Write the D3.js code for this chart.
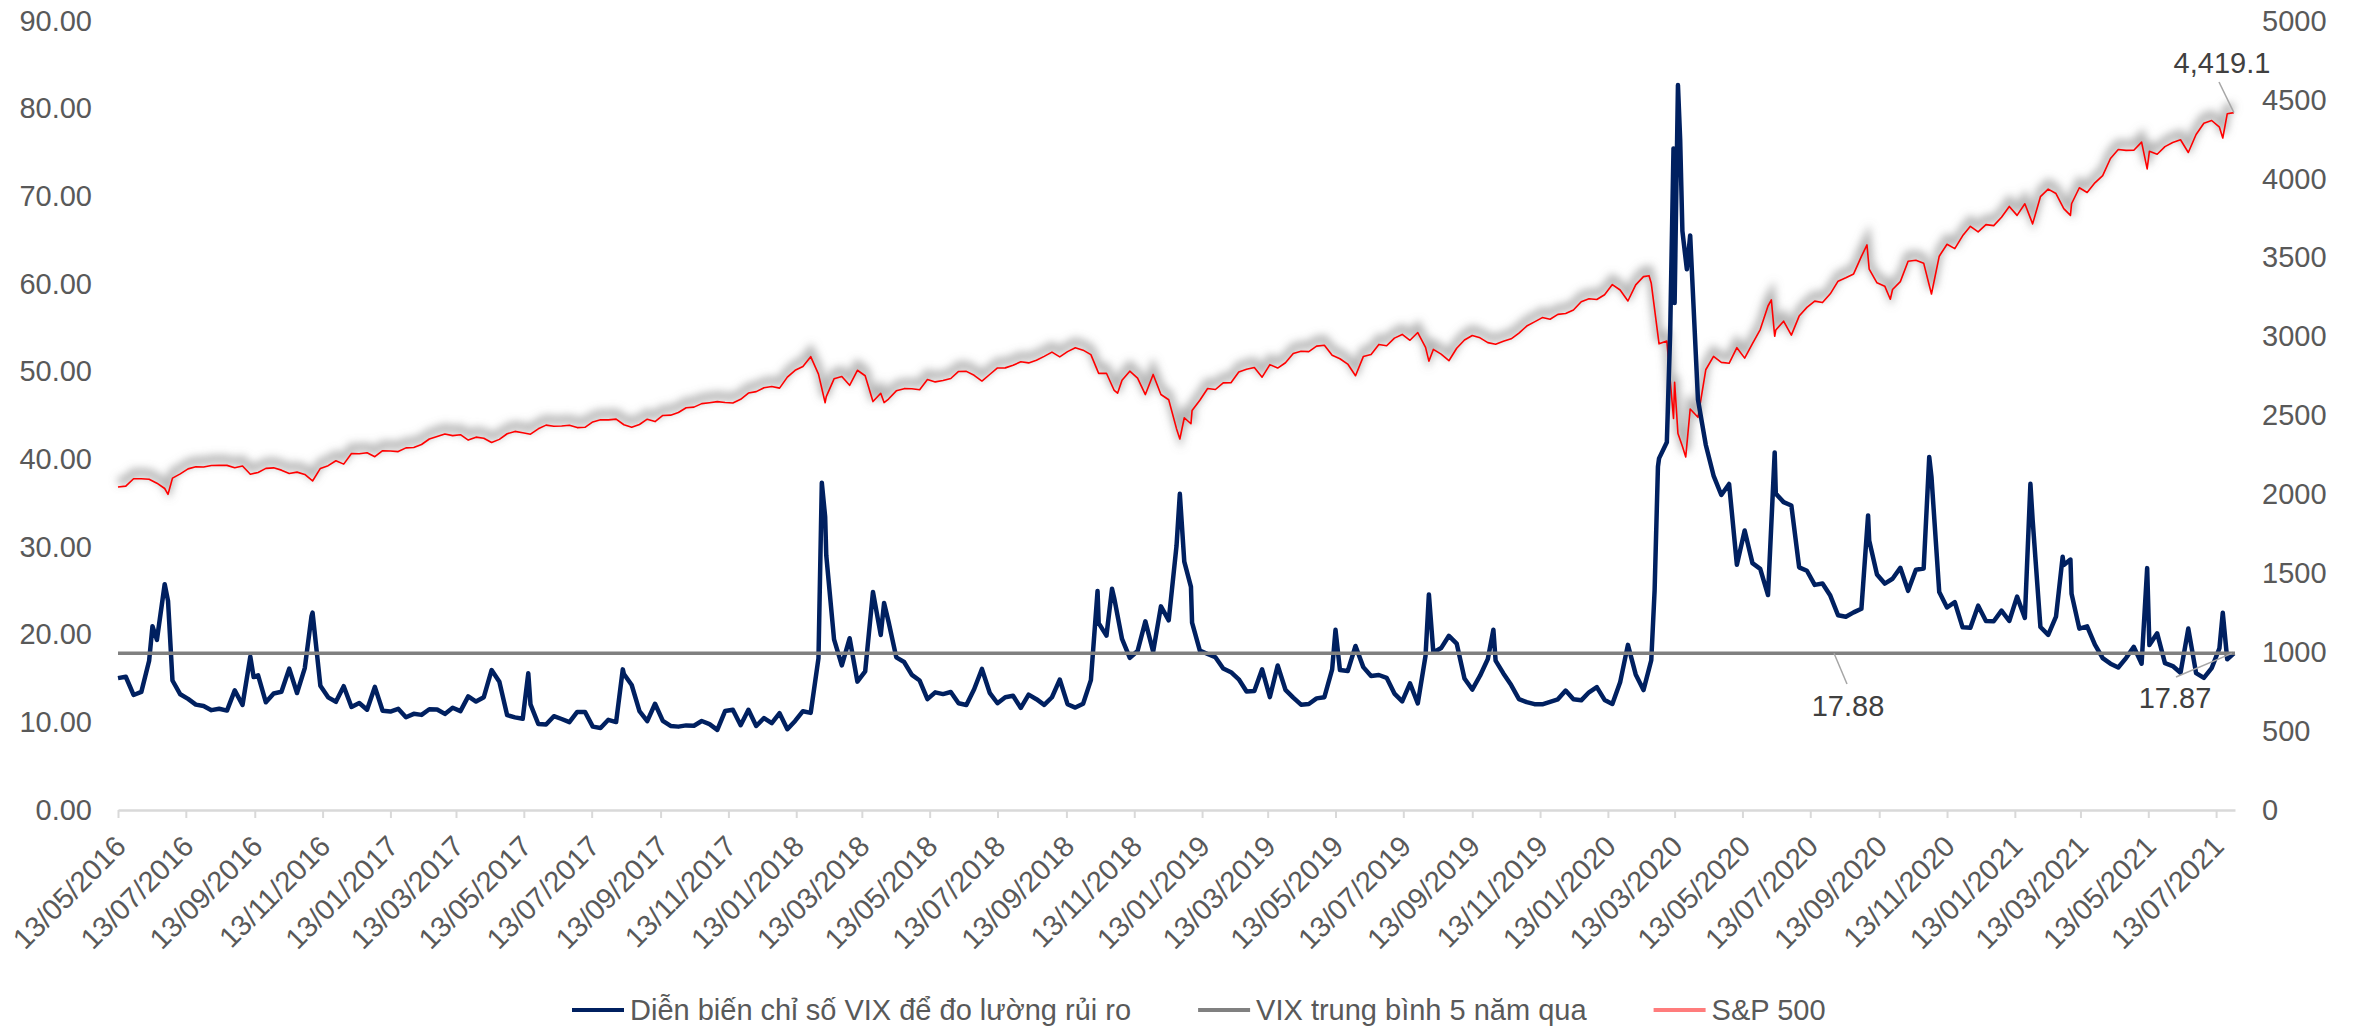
<!DOCTYPE html>
<html lang="vi">
  <head>
    <meta charset="UTF-8" />
    <title>VIX va S&amp;P 500</title>
    <script src="https://d3js.org/d3.v7.min.js"></script>
    <style>
      body {
        margin: 0;
        background: #fff;
        font-family: "Liberation Sans", Arial, sans-serif;
      }
      .tick text {
        fill: #595959;
        font-size: 29px;
      }
    </style>
  </head>
  <body>
    <script>
      // weekly closes (Fridays) from 13/05/2016 to 23/07/2021
      const vix2016 = [15.04,15.20,13.12,13.47,17.03,19.41,25.76,14.77,13.20,12.67,12.02,11.87,11.39,11.55,11.34,13.65,11.98,17.50,15.37,12.29,13.29,13.48,16.12,13.34,16.19,22.51,14.17,12.85,12.34,14.12,11.75,12.20,11.44,14.04];
      const vix2017 = [11.32,11.23,11.54,10.58,10.97,10.85,11.49,11.47,10.96,11.66,11.28,12.96,12.37,12.87,15.96,14.63,10.82,10.57,10.40,12.04,9.81,9.75,10.70,10.38,10.02,11.18,11.19,9.51,9.36,10.29,10.03,15.51,14.26,11.28,10.13,12.12,10.17,9.59,9.51,9.65,9.61,10.15,9.80,9.14,11.29,11.43,9.67,11.43,9.58,10.49,9.90,11.04];
      const vix2018 = [9.22,10.16,11.27,11.08,17.31,29.06,19.46,16.49,19.59,14.64,15.80,24.87,19.97,21.49,17.41,16.88,15.41,14.77,12.65,13.42,13.22,13.46,12.18,11.98,13.77,16.09,13.37,12.18,12.86,13.03,11.64,13.16,12.64,11.99,12.86,14.88,12.07,11.68,12.12,14.82,21.31,19.89,24.16,19.51,17.36,18.14,21.52,18.07,23.23,21.63,30.11,28.34];
      const vix2019 = [21.38,18.19,17.80,17.42,16.14,15.72,14.91,13.51,13.57,16.05,12.88,16.48,13.71,12.82,12.01,12.09,12.73,12.87,16.04,15.96,15.85,18.71,16.30,15.28,15.40,15.08,13.28,12.39,14.45,12.16,17.61,17.97,18.47,19.87,18.98,15.00,13.74,15.32,17.22,17.04,15.58,14.25,12.65,12.30,12.07,12.05,12.34,12.62,13.62,12.63,12.51,13.43];
      const vix2020 = [14.02,12.56,12.10,14.56,18.84,15.47,13.68,17.08,40.11,41.94,57.83,66.04,65.54,46.80,41.67,38.15,35.93,37.19,27.98,31.89,28.16,27.51,24.52,36.09,35.12,34.73,27.68,27.29,25.68,25.84,24.46,22.21,22.05,22.54,22.96,30.75,26.87,25.83,26.38,27.63,25.00,27.41,27.55,38.02,24.86,23.10,23.70,20.84,20.79,23.31,21.57,21.53,22.75];
      const vix2021 = [21.56,24.34,21.91,33.09,20.87,19.97,22.05,27.95,24.66,20.69,20.95,18.86,17.33,16.69,16.25,17.33,18.61,16.69,18.81,20.15,16.76,16.42,15.65,20.70,15.62,15.07,16.18,18.45,17.20];

      const spx2016 = [2046.61,2052.32,2099.06,2099.13,2096.07,2071.22,2037.41,2102.95,2129.90,2161.74,2175.03,2173.60,2182.87,2184.05,2183.87,2169.04,2179.98,2127.81,2139.16,2164.69,2168.27,2153.74,2132.98,2141.16,2126.41,2085.18,2164.45,2181.90,2213.35,2191.95,2259.53,2258.07,2263.79,2238.83];
      const spx2017 = [2276.98,2274.64,2271.31,2294.69,2297.42,2316.10,2351.16,2367.34,2383.12,2372.60,2378.25,2343.98,2362.72,2355.54,2328.95,2348.69,2384.20,2399.29,2390.90,2381.73,2415.82,2439.07,2431.77,2433.15,2438.30,2423.41,2425.18,2459.27,2472.54,2472.10,2476.83,2441.32,2425.55,2443.05,2476.55,2461.43,2500.23,2502.22,2519.36,2549.33,2553.17,2575.21,2581.07,2587.84,2582.30,2578.85,2602.42,2642.22,2651.50,2675.81,2683.34,2673.61];
      const spx2018 = [2743.15,2786.24,2810.30,2872.87,2762.13,2619.55,2732.22,2747.30,2691.25,2786.57,2752.01,2588.26,2640.87,2604.47,2656.30,2670.14,2669.91,2663.42,2727.72,2712.97,2721.33,2734.62,2779.03,2779.66,2754.88,2718.37,2759.82,2801.31,2801.83,2818.82,2840.35,2833.28,2850.13,2874.69,2901.52,2871.68,2904.98,2929.67,2913.98,2885.57,2767.13,2767.78,2658.69,2723.06,2781.01,2736.27,2632.56,2760.17,2633.08,2599.95,2416.62,2485.74];
      const spx2019 = [2531.94,2596.26,2670.71,2664.76,2706.53,2707.88,2775.60,2792.67,2803.69,2743.07,2822.48,2800.71,2834.40,2892.74,2907.41,2905.03,2939.88,2945.64,2881.40,2859.53,2826.06,2752.06,2873.34,2886.98,2950.46,2941.76,2990.41,3013.77,2976.61,3025.86,2932.05,2918.65,2888.68,2847.11,2926.46,2978.71,3007.39,2992.07,2961.79,2952.01,2970.27,2986.20,3022.55,3066.91,3093.08,3120.46,3110.29,3140.98,3145.91,3168.80,3221.22,3240.02];
      const spx2020 = [3234.85,3265.35,3329.62,3295.47,3225.52,3327.71,3380.16,3337.75,2954.22,2972.37,2711.02,2304.92,2541.47,2488.65,2789.82,2874.56,2836.74,2830.71,2929.80,2863.70,2955.45,3044.31,3193.93,3041.31,3097.74,3009.05,3130.01,3185.04,3224.73,3215.63,3271.12,3351.28,3372.85,3397.16,3508.01,3426.96,3340.97,3319.47,3298.46,3348.44,3477.14,3483.81,3465.39,3269.96,3509.44,3585.15,3557.54,3638.35,3699.12,3663.46,3709.41,3703.06,3756.07];
      const spx2021 = [3824.68,3768.25,3841.47,3714.24,3886.83,3934.83,3906.71,3811.15,3841.94,3943.34,3913.10,3974.54,4019.87,4128.80,4185.47,4180.17,4181.17,4232.60,4173.85,4155.86,4204.11,4229.89,4247.44,4166.45,4280.70,4352.34,4369.55,4327.16,4411.79];

      // intra-week extremes and the last day (29/07/2021)
      const vixExtra = [
        ["2016-06-13", 20.97], ["2016-06-27", 23.85], ["2016-09-12", 15.16], ["2016-11-03", 22.08],
        ["2017-05-17", 15.59], ["2017-08-10", 16.04],
        ["2018-02-05", 37.32], ["2018-02-08", 33.46], ["2018-04-02", 23.62], ["2018-10-11", 24.98],
        ["2018-10-24", 25.23], ["2018-12-24", 36.07],
        ["2019-01-03", 25.45], ["2019-05-13", 20.55], ["2019-08-05", 24.59], ["2019-10-02", 20.56],
        ["2020-02-24", 25.03], ["2020-02-27", 39.16], ["2020-03-09", 54.46], ["2020-03-12", 75.47],
        ["2020-03-16", 82.69], ["2020-03-18", 76.45], ["2020-03-24", 61.67], ["2020-06-11", 40.79],
        ["2020-09-03", 33.6], ["2020-10-28", 40.28],
        ["2021-01-27", 37.21], ["2021-02-25", 28.89], ["2021-03-04", 28.57], ["2021-05-12", 27.59],
        ["2021-07-19", 22.5], ["2021-07-29", 17.87]
      ];
      const spxExtra = [
        ["2016-06-27", 2000.54],
        ["2018-02-08", 2581.0], ["2018-04-02", 2581.88], ["2018-10-29", 2641.25], ["2018-12-24", 2351.1],
        ["2019-01-03", 2447.89], ["2019-08-05", 2844.74],
        ["2020-02-19", 3386.15], ["2020-03-12", 2480.64], ["2020-03-16", 2386.13], ["2020-03-23", 2237.4],
        ["2020-06-08", 3232.39], ["2020-06-11", 3002.1], ["2020-09-02", 3580.84], ["2020-09-23", 3236.92],
        ["2021-01-27", 3750.77], ["2021-03-04", 3768.47], ["2021-05-12", 4063.04], ["2021-07-19", 4258.49],
        ["2021-07-29", 4419.15]
      ];

      const vixAverage = 17.88;

      const tickLabels = [
        "13/05/2016","13/07/2016","13/09/2016","13/11/2016",
        "13/01/2017","13/03/2017","13/05/2017","13/07/2017","13/09/2017","13/11/2017",
        "13/01/2018","13/03/2018","13/05/2018","13/07/2018","13/09/2018","13/11/2018",
        "13/01/2019","13/03/2019","13/05/2019","13/07/2019","13/09/2019","13/11/2019",
        "13/01/2020","13/03/2020","13/05/2020","13/07/2020","13/09/2020","13/11/2020",
        "13/01/2021","13/03/2021","13/05/2021","13/07/2021"
      ];
      const leftTicks = [0, 10, 20, 30, 40, 50, 60, 70, 80, 90];
      const rightTicks = [0, 500, 1000, 1500, 2000, 2500, 3000, 3500, 4000, 4500, 5000];
      const legendItems = [
        { name: "Diễn biến chỉ số VIX để đo lường rủi ro", color: "#002060" },
        { name: "VIX trung bình 5 năm qua", color: "#808080" },
        { name: "S&P 500", color: "#ff7c7c" }
      ];

      // build series
      const parseIso = d3.timeParse("%Y-%m-%d");
      const parseLabel = d3.timeParse("%d/%m/%Y");
      const fridays = d3.timeFriday.range(new Date(2016, 4, 13), new Date(2021, 6, 24));

      function buildSeries(weekly, extra) {
        const pts = weekly.map((v, i) => ({ date: fridays[i], value: v }));
        extra.forEach(([d, v]) => pts.push({ date: parseIso(d), value: v }));
        return pts.sort((a, b) => a.date - b.date);
      }
      const vix = buildSeries(
        [].concat(vix2016, vix2017, vix2018, vix2019, vix2020, vix2021), vixExtra);
      const spx = buildSeries(
        [].concat(spx2016, spx2017, spx2018, spx2019, spx2020, spx2021), spxExtra);

      const width = 2354;
      const height = 1028;
      const plot = { left: 118, right: 2235, top: 21, bottom: 810 };

      const svg = d3.select("body").append("svg")
        .attr("width", width)
        .attr("height", height);

      const defs = svg.append("defs");
      defs.append("filter")
        .attr("id", "glow")
        .attr("x", "-5%").attr("y", "-20%")
        .attr("width", "110%").attr("height", "140%")
        .append("feGaussianBlur")
        .attr("stdDeviation", 4.5);

      const x = d3.scaleTime()
        .domain([new Date(2016, 4, 13), new Date(2021, 6, 30)])
        .range([plot.left, plot.right]);
      const yL = d3.scaleLinear().domain([0, 90]).range([plot.bottom, plot.top]);
      const yR = d3.scaleLinear().domain([0, 5000]).range([plot.bottom, plot.top]);

      // x axis
      const tickDates = tickLabels.map(parseLabel);
      const xAxis = svg.append("g")
        .attr("transform", `translate(0,${plot.bottom})`)
        .call(d3.axisBottom(x)
          .tickValues(tickDates)
          .tickFormat(d3.timeFormat("%d/%m/%Y"))
          .tickSize(8)
          .tickSizeOuter(0));
      xAxis.select(".domain").attr("stroke", "#d9d9d9").attr("stroke-width", 2.5);
      xAxis.selectAll(".tick line").attr("stroke", "#d9d9d9").attr("stroke-width", 2);
      xAxis.selectAll(".tick text")
        .attr("text-anchor", "end")
        .attr("x", 0).attr("y", 0).attr("dy", "0.35em")
        .attr("transform", "translate(2,31) rotate(-45)");

      // left axis
      const leftAxis = svg.append("g")
        .attr("transform", `translate(${plot.left},0)`)
        .call(d3.axisLeft(yL).tickValues(leftTicks).tickFormat(d3.format(".2f"))
          .tickSize(0).tickPadding(26));
      leftAxis.select(".domain").remove();

      // right axis
      const rightAxis = svg.append("g")
        .attr("transform", `translate(${plot.right},0)`)
        .call(d3.axisRight(yR).tickValues(rightTicks).tickFormat(d3.format("d"))
          .tickSize(0).tickPadding(27));
      rightAxis.select(".domain").remove();

      // S&P 500 with soft shadow
      const spxLine = d3.line().x((d) => x(d.date)).y((d) => yR(d.value));
      svg.append("path")
        .datum(spx)
        .attr("d", spxLine)
        .attr("fill", "none")
        .attr("stroke", "#7f7f7f")
        .attr("stroke-opacity", 0.6)
        .attr("stroke-width", 8)
        .attr("transform", "translate(0,-6)")
        .attr("filter", "url(#glow)");
      svg.append("path")
        .datum(spx)
        .attr("d", spxLine)
        .attr("fill", "none")
        .attr("stroke", "#ff0000")
        .attr("stroke-width", 1.6)
        .attr("stroke-linejoin", "round");

      // VIX
      const vixLine = d3.line().x((d) => x(d.date)).y((d) => yL(d.value));
      svg.append("path")
        .datum(vix)
        .attr("d", vixLine)
        .attr("fill", "none")
        .attr("stroke", "#002060")
        .attr("stroke-width", 4.5)
        .attr("stroke-linejoin", "round");

      // 5-year average
      svg.append("line")
        .attr("x1", plot.left).attr("x2", plot.right)
        .attr("y1", yL(vixAverage)).attr("y2", yL(vixAverage))
        .attr("stroke", "#808080")
        .attr("stroke-width", 3.5);

      // data labels
      const lastSpx = spx[spx.length - 1];
      const lastVix = vix[vix.length - 1];
      const labels = [
        { text: d3.format(",.1f")(lastSpx.value), tx: 2222, ty: 73,
          from: [2219, 82], to: [x(lastSpx.date), yR(lastSpx.value)] },
        { text: vixAverage.toFixed(2), tx: 1848, ty: 716,
          from: [1847, 684], to: [1834, yL(vixAverage)] },
        { text: lastVix.value.toFixed(2), tx: 2175, ty: 708,
          from: [2176, 677], to: [x(lastVix.date) - 2, yL(lastVix.value)] }
      ];
      labels.forEach((l) => {
        svg.append("line")
          .attr("x1", l.from[0]).attr("y1", l.from[1])
          .attr("x2", l.to[0]).attr("y2", l.to[1])
          .attr("stroke", "#a6a6a6")
          .attr("stroke-width", 1.5);
        svg.append("text")
          .attr("x", l.tx).attr("y", l.ty)
          .attr("text-anchor", "middle")
          .attr("fill", "#404040")
          .attr("font-size", 29)
          .text(l.text);
      });

      // legend
      const legend = svg.append("g").attr("transform", "translate(572,1010)");
      let lx = 0;
      legendItems.forEach((item) => {
        legend.append("line")
          .attr("x1", lx).attr("x2", lx + 52)
          .attr("y1", 0).attr("y2", 0)
          .attr("stroke", item.color)
          .attr("stroke-width", 4);
        const t = legend.append("text")
          .attr("x", lx + 58).attr("y", 0).attr("dy", "0.35em")
          .attr("fill", "#595959")
          .attr("font-size", 29)
          .text(item.name);
        lx += 58 + t.node().getComputedTextLength() + 67;
      });
    </script>
  </body>
</html>
